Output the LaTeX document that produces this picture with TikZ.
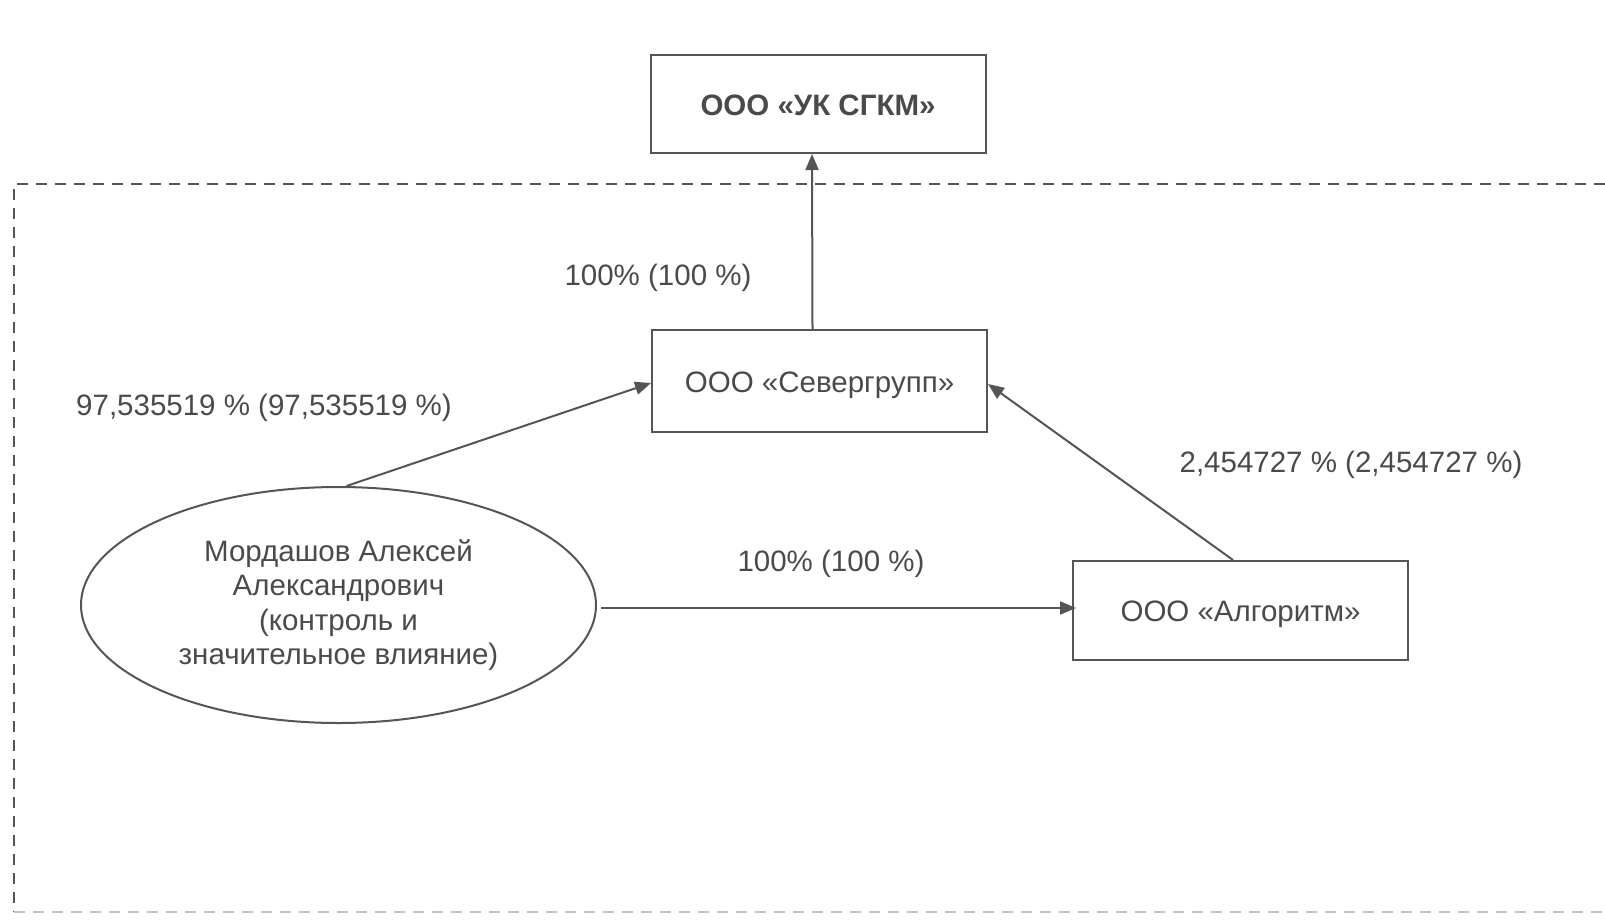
\documentclass[tikz,border=0pt]{standalone}
\usepackage{fontspec}
\setmainfont{Liberation Sans}
\usetikzlibrary{arrows.meta,shapes.geometric}
\definecolor{ink}{HTML}{4A4A4A}
\definecolor{lineink}{HTML}{555555}
\tikzset{
  txt/.style={text=ink, font=\fontsize{29.5}{34.5}\selectfont, text height=26pt, text depth=3.2pt},
  box/.style={txt, draw=lineink, line width=2pt, rectangle, minimum width=335pt, inner sep=0pt},
  oval/.style={draw=lineink, line width=2pt, ellipse, minimum width=515pt, minimum height=236pt, inner sep=0pt, text=ink, align=center, font=\fontsize{29.5}{34.5}\selectfont},
  arr/.style={draw=lineink, line width=2pt, -{Triangle[length=16pt,width=13pt]}},
  lbl/.style={txt, inner sep=0pt},
  frame/.style={draw=lineink, line width=2.6pt, dash pattern=on 11pt off 8pt},
}
\begin{document}
\begin{tikzpicture}[x=1pt,y=-1pt]
\useasboundingbox[fill=white] (0,0) rectangle (1605,920);
% dashed frame
\draw[frame] (1605,184) -- (14,184) -- (14,912);
\draw[frame, draw=lineink!35] (14,912) -- (1605,912);
% nodes
\node[box, minimum height=98pt, font=\bfseries\fontsize{29.5}{34}\selectfont] (ukg) at (818,104) {ООО «УК СГКМ»};
\node[box, minimum height=102pt] (sev) at (819.5,381) {ООО «Севергрупп»};
\node[box, minimum height=99pt] (alg) at (1240.5,610.5) {ООО «Алгоритм»};
\node[oval] (mor) at (338.5,605) {Мордашов Алексей\\Александрович\\(контроль и\\значительное влияние)};
% connectors
\draw[arr] ([xshift=-7pt]sev.north) -- ([xshift=-6pt]ukg.south);
\draw[arr] ([xshift=8pt]mor.north) -- ([yshift=-2pt]sev.west);
\draw[arr] ([xshift=4pt,yshift=-3pt]mor.east) -- ([xshift=4pt,yshift=-3pt]mor.east -| alg.west);
\draw[arr] ([xshift=-7.5pt]alg.north) -- ([yshift=-3pt]sev.east);
% labels
\node[lbl] (l1) at (658,274) {100\% (100 \%)};
\node[lbl] (l2) at (264,404) {97,535519 \% (97,535519 \%)};
\node[lbl] (l3) at (1351,461) {2,454727 \% (2,454727 \%)};
\node[lbl] (l4) at (831,560) {100\% (100 \%)};
\end{tikzpicture}
\end{document}
